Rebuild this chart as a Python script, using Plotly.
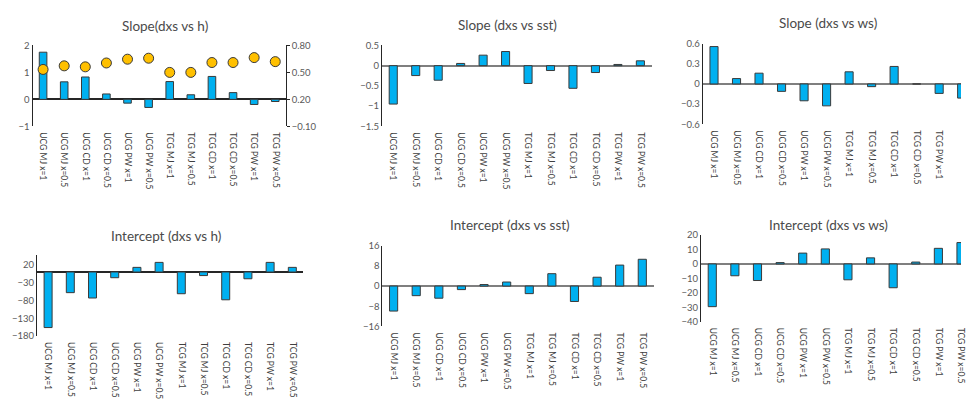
import plotly.graph_objects as go

W, H = 966, 399

categories = ["UCG MJ x=1", "UCG MJ x=0.5", "UCG CD x=1", "UCG CD x=0.5",
              "UCG PW x=1", "UCG PW x=0.5", "TCG MJ x=1", "TCG MJ x=0.5",
              "TCG CD x=1", "TCG CD x=0.5", "TCG PW x=1", "TCG PW x=0.5"]

slope_h = [1.75, 0.65, 0.83, 0.20, -0.14, -0.30, 0.66, 0.17, 0.85, 0.25, -0.19, -0.08]
slope_h_r2 = [0.533, 0.573, 0.562, 0.605, 0.647, 0.658, 0.50, 0.50, 0.61, 0.61, 0.665, 0.62]
slope_sst = [-0.95, -0.245, -0.36, 0.055, 0.26, 0.35, -0.44, -0.12, -0.56, -0.17, 0.03, 0.12]
slope_ws = [0.555, 0.08, 0.16, -0.11, -0.25, -0.325, 0.18, -0.04, 0.26, 0.0, -0.14, -0.21]
intercept_h = [-156, -58, -73, -16, 13, 27, -61, -10, -78, -19, 27, 13]
intercept_sst = [-9.9, -3.8, -4.8, -1.4, 0.6, 1.6, -3.0, 4.9, -6.1, 3.5, 8.3, 10.6]
intercept_ws = [-29.6, -8.2, -11.5, 0.9, 7.5, 10.4, -11.0, 4.2, -16.5, 1.3, 10.8, 14.8]

BAR = "#00B0F0"
EDGE = "#3a3a3a"
DOT = "#FFC000"
TXT = "#595959"
TITLE = "#4a4a4a"
LABEL_FONT = dict(family="Lato, sans-serif", size=8.5, color="#404040")
NUM_FONT = dict(family="Lato, sans-serif", size=9.5, color=TXT)

# panel layout in pixels: left, right, top, bottom of each plot area
panels = [
    dict(title="Slope(dxs vs h)", vals=slope_h, px=(32.7, 287.3), py=(41, 125),
         yr=[-1, 2], tick0=-1, dtick=1, xr=[-0.5, 11.5], tx=166, ty=21, zc="#262626"),
    dict(title="Slope (dxs vs sst)", vals=slope_sst, px=(384, 655), py=(41, 125),
         yr=[-1.5, 0.5], tick0=-1.5, dtick=0.5, xr=[-0.5, 11.5], tx=510, ty=20, zc="#7f7f7f"),
    dict(title="Slope (dxs vs ws)", vals=slope_ws, px=(706.4, 966), py=(39, 123),
         yr=[-0.6, 0.6], tick0=-0.6, dtick=0.3, xr=[-0.5, 10.97], tx=832, ty=18, zc="#7f7f7f"),
    dict(title="Intercept (dxs vs h)", vals=intercept_h, px=(37.2, 305), py=(259, 343),
         yr=[-180, 47], tick0=-180, dtick=50, xr=[-0.5, 11.5], tx=167, ty=239, zc="#262626"),
    dict(title="Intercept (dxs vs sst)", vals=intercept_sst, px=(384.3, 657), py=(249, 333),
         yr=[-16, 16], tick0=-16, dtick=8, xr=[-0.5, 11.5], tx=513, ty=228, zc="#7f7f7f"),
    dict(title="Intercept (dxs vs ws)", vals=intercept_ws, px=(704.6, 966), py=(238, 328),
         yr=[-40, 20], tick0=-40, dtick=10, xr=[-0.5, 11.0], tx=833, ty=228, zc="#7f7f7f"),
]

fig = go.Figure()
layout = dict(
    width=W, height=H, margin=dict(l=0, r=0, t=0, b=0),
    paper_bgcolor="white", plot_bgcolor="white", showlegend=False,
    bargap=0.64, annotations=[],
)

for i, p in enumerate(panels):
    n = i + 1
    xa = "x" if n == 1 else f"x{n}"
    ya = "y" if n == 1 else f"y{n}"
    xkey = "xaxis" if n == 1 else f"xaxis{n}"
    ykey = "yaxis" if n == 1 else f"yaxis{n}"
    fig.add_trace(go.Bar(
        x=categories, y=p["vals"], xaxis=xa, yaxis=ya,
        marker=dict(color=BAR, line=dict(color=EDGE, width=1)),
    ))
    layout[xkey] = dict(
        domain=[p["px"][0] / W, p["px"][1] / W], anchor=ya,
        type="category", range=p["xr"], tickangle=90,
        showline=False, showgrid=False, ticks="", tickfont=LABEL_FONT,
        ticklabelstandoff=5, fixedrange=True,
    )
    layout[ykey] = dict(
        domain=[1 - p["py"][1] / H, 1 - p["py"][0] / H], anchor=xa,
        range=p["yr"], tick0=p["tick0"], dtick=p["dtick"],
        showgrid=False, showline=True, linecolor="#262626", linewidth=1,
        zeroline=True, zerolinecolor=p["zc"], zerolinewidth=1.5,
        ticks="", tickfont=NUM_FONT, fixedrange=True,
    )
    layout["annotations"].append(dict(
        text=p["title"], x=p["tx"] / W, y=1 - p["ty"] / H, xref="paper", yref="paper",
        xanchor="center", yanchor="middle", showarrow=False,
        font=dict(family="Lato, Open Sans, sans-serif", size=13.5, color=TITLE),
    ))

# secondary axis on the first panel for the dot series
fig.add_trace(go.Scatter(
    x=categories, y=slope_h_r2, xaxis="x", yaxis="y7", mode="markers",
    marker=dict(color=DOT, size=10, line=dict(color=EDGE, width=1)),
))
layout["yaxis7"] = dict(
    overlaying="y", side="right", anchor="x",
    range=[-0.1, 0.8], tick0=-0.1, dtick=0.3, tickformat=".2f",
    showgrid=False, showline=True, linecolor="#262626", linewidth=1,
    zeroline=False, ticks="outside", ticklen=3, tickcolor="#262626",
    tickfont=NUM_FONT, fixedrange=True,
)

fig.update_layout(**layout)
fig.write_html("out.html")
